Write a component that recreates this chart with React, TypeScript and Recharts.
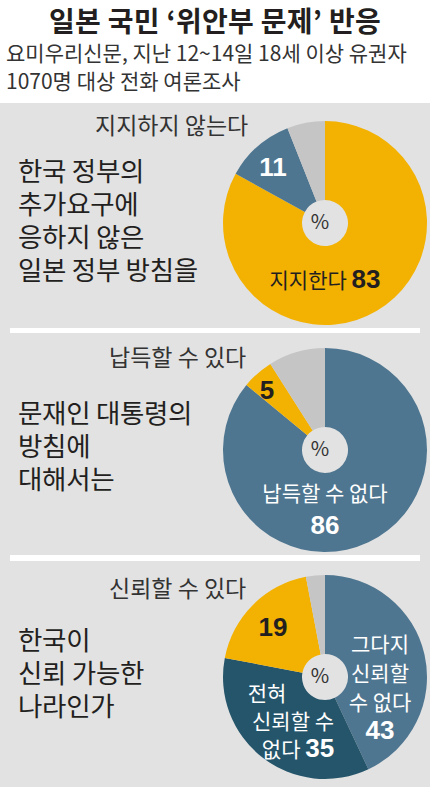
import React from 'react';
import { PieChart, Pie, Cell } from 'recharts';

// 요미우리신문 여론조사 (%)
const q1Names = ['지지한다', '지지하지 않는다', '기타'];
const q1Values = [83, 11, 6];
const q2Names = ['납득할 수 없다', '납득할 수 있다', '기타'];
const q2Values = [86, 5, 9];
const q3Names = ['그다지 신뢰할 수 없다', '전혀 신뢰할 수 없다', '신뢰할 수 있다', '기타'];
const q3Values = [43, 35, 19, 3];

// 조각 안 라벨 문구 ('#' 자리에 값)
const q1Inner = [['지지한다 #'], ['#'], []];
const q2Inner = [['납득할 수 없다', '#'], ['#'], []];
const q3Inner = [['그다지', '신뢰할', '수 없다', '#'], ['전혀', '신뢰할 수', '없다 #'], ['#'], []];

const title = '일본 국민 ‘위안부 문제’ 반응';
const subtitle = ['요미우리신문, 지난 12~14일 18세 이상 유권자', '1070명 대상 전화 여론조사'];
const questions = [
  ['한국 정부의', '추가요구에', '응하지 않은', '일본 정부 방침을'],
  ['문재인 대통령의', '방침에', '대해서는'],
  ['한국이', '신뢰 가능한', '나라인가'],
];
const outsideLabels = ['지지하지 않는다', '납득할 수 있다', '신뢰할 수 있다'];

const YELLOW = '#f3b102';
const BLUE = '#4f7690';
const DARK = '#25556a';
const GRAY = '#c5c5c5';
const BG = '#e2e2e2';
const INK = '#231f20';
const FONT = '"Noto Sans CJK KR", sans-serif';
const NUM_FONT = '"Liberation Sans", Arial, sans-serif';

type Spot = { dx: number | number[]; dy: number; step: number; color: string } | null;

const q1Spots: Spot[] = [
  { dx: 0, dy: 56, step: 0, color: INK },
  { dx: -52, dy: -56, step: 0, color: '#fff' },
  null,
];
const q2Spots: Spot[] = [
  { dx: 0, dy: 42, step: 33, color: '#fff' },
  { dx: -58, dy: -60, step: 0, color: INK },
  null,
];
const q3Spots: Spot[] = [
  { dx: 55, dy: -34, step: 29, color: '#fff' },
  { dx: [-58, -32, -27], dy: 15, step: 28, color: '#fff' },
  { dx: -52, dy: -50, step: 0, color: INK },
  null,
];

const pies = [
  { names: q1Names, values: q1Values, colors: [YELLOW, BLUE, GRAY], inner: q1Inner, spots: q1Spots, cy: 218 },
  { names: q2Names, values: q2Values, colors: [BLUE, YELLOW, GRAY], inner: q2Inner, spots: q2Spots, cy: 445 },
  { names: q3Names, values: q3Values, colors: [BLUE, DARK, YELLOW, GRAY], inner: q3Inner, spots: q3Spots, cy: 672 },
];

const makeLabel = (inner: string[][], spots: Spot[]) => (props: any) => {
  const spot = spots[props.index];
  const lines = inner[props.index];
  if (!spot || !lines || lines.length === 0) return null;
  const value = props.value;
  return (
    <g>
      {lines.map((line, i) => {
        const dx = Array.isArray(spot.dx) ? spot.dx[i] : spot.dx;
        const parts = line.split('#');
        return (
          <text
            key={i}
            x={props.cx + dx}
            y={props.cy + spot.dy + i * spot.step}
            textAnchor="middle"
            dominantBaseline="central"
            fill={spot.color}
            fontFamily={FONT}
            fontSize={21}
          >
            {parts.map((p, j) => (
              <React.Fragment key={j}>
                {p && <tspan>{p}</tspan>}
                {j < parts.length - 1 && (
                  <tspan fontFamily={NUM_FONT} fontWeight="bold" fontSize={26}>
                    {value}
                  </tspan>
                )}
              </React.Fragment>
            ))}
          </text>
        );
      })}
    </g>
  );
};

const App: React.FC = () => {
  return (
    <div style={{ position: 'absolute', left: 0, top: 0, width: 430, height: 787, background: '#fff', overflow: 'hidden', fontFamily: FONT, color: INK }}>
      <div style={{ position: 'absolute', left: 0, top: 2, width: 430, textAlign: 'center', fontSize: 28, fontWeight: 'bold', lineHeight: '36px', letterSpacing: 0.3 }}>
        {title}
      </div>
      <div style={{ position: 'absolute', left: 6, top: 38, fontSize: 21, lineHeight: '28px', color: '#333' }}>
        {subtitle.map((s, i) => <div key={i}>{s}</div>)}
      </div>

      <div style={{ position: 'absolute', left: 0, top: 103, width: 430, height: 684, background: BG }} />
      <div style={{ position: 'absolute', left: 10, top: 328, width: 410, height: 5, background: '#fff' }} />
      <div style={{ position: 'absolute', left: 10, top: 555, width: 410, height: 6, background: '#fff' }} />

      {questions.map((q, i) => (
        <div key={i} style={{ position: 'absolute', left: 18, top: [153, 395, 622][i], fontSize: 26.5, lineHeight: '33px', letterSpacing: -0.3 }}>
          {q.map((l, j) => <div key={j}>{l}</div>)}
        </div>
      ))}
      {outsideLabels.map((l, i) => (
        <div key={i} style={{ position: 'absolute', left: [95, 109, 109][i], top: [109, 341, 572][i], fontSize: 23, lineHeight: '30px', color: '#333', whiteSpace: 'nowrap' }}>
          {l}
        </div>
      ))}

      <div style={{ position: 'absolute', left: 0, top: 0 }}>
        <PieChart width={430} height={787}>
          {pies.map((p, k) => {
            const data = p.names.map((n, i) => ({ name: n, value: p.values[i] }));
            return (
              <Pie
                key={k}
                data={data}
                dataKey="value"
                nameKey="name"
                cx={320}
                cy={p.cy}
                innerRadius={23}
                outerRadius={102}
                startAngle={90}
                endAngle={-270}
                stroke="none"
                labelLine={false}
                label={makeLabel(p.inner, p.spots)}
                isAnimationActive={false}
              >
                {data.map((d, i) => <Cell key={d.name} fill={p.colors[i]} />)}
              </Pie>
            );
          })}
          {pies.map((p, k) => (
            <text key={`pct-${k}`} x={320} y={p.cy + 2} textAnchor="middle" dominantBaseline="central" fontFamily={FONT} fontSize={20} fill="#333">
              %
            </text>
          ))}
        </PieChart>
      </div>
    </div>
  );
};

export default App;
